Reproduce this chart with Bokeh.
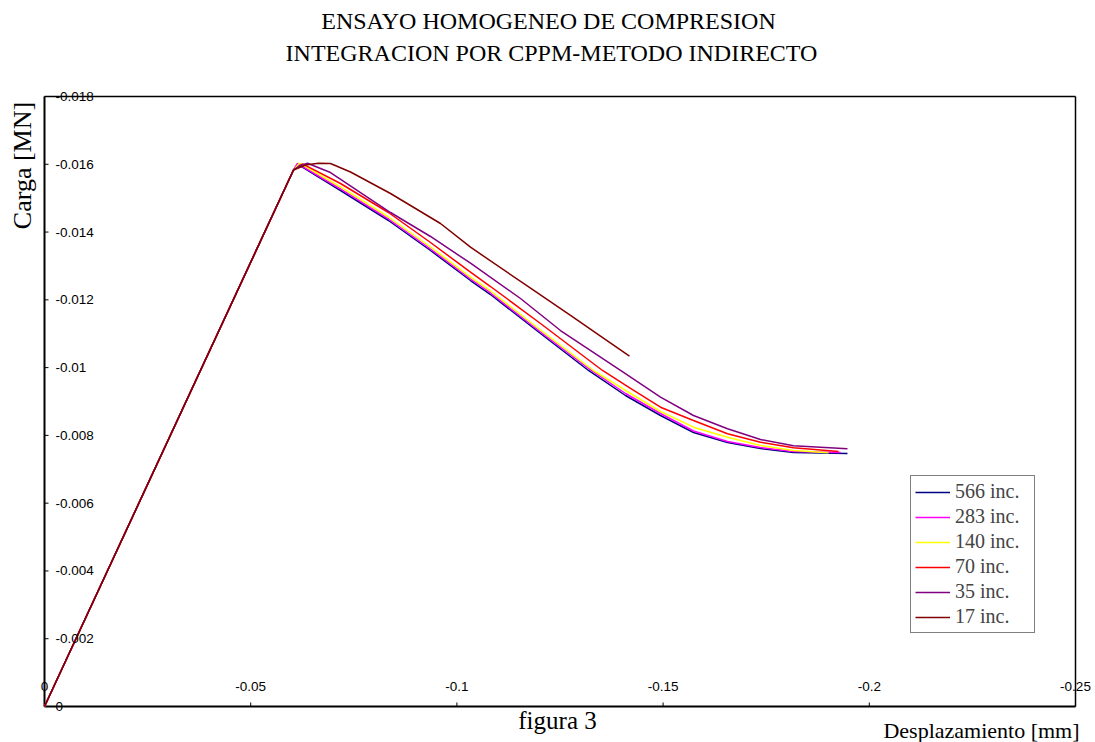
import math
from bokeh.plotting import figure
from bokeh.models import Range1d, Label, Legend, LegendItem
from bokeh.core.properties import value
from bokeh.embed import file_html
from bokeh.resources import INLINE

# ---------------- data ----------------
title_lines = ["ENSAYO HOMOGENEO DE COMPRESION", "INTEGRACION POR CPPM-METODO INDIRECTO"]
x_title = "Desplazamiento [mm]"
y_title = "Carga [MN]"
caption = "figura 3"

x_ticks = [0, -0.05, -0.1, -0.15, -0.2, -0.25]
x_tick_labels = ["0", "-0.05", "-0.1", "-0.15", "-0.2", "-0.25"]
y_ticks = [0, -0.002, -0.004, -0.006, -0.008, -0.01, -0.012, -0.014, -0.016, -0.018]
y_tick_labels = ["0", "-0.002", "-0.004", "-0.006", "-0.008", "-0.01", "-0.012",
                 "-0.014", "-0.016", "-0.018"]

series_names = ["566 inc.", "283 inc.", "140 inc.", "70 inc.", "35 inc.", "17 inc."]
series_colors = ["#000080", "#FF00FF", "#FFFF00", "#FF0000", "#800080", "#800000"]

x_566 = [0, -0.06038, -0.06135, -0.07177, -0.08341, -0.0936, -0.1033, -0.10815, -0.12027,
         -0.13191, -0.14088, -0.14937, -0.15737, -0.16562, -0.17362, -0.18162, -0.19471]
y_566 = [0, -0.015831, -0.016008, -0.015226, -0.014341, -0.013456, -0.01257, -0.012157,
         -0.011006, -0.009915, -0.009177, -0.008587, -0.008085, -0.00779, -0.007613,
         -0.007495, -0.007466]

x_283 = [0, -0.06038, -0.06135, -0.07177, -0.08341, -0.0936, -0.1033, -0.10815, -0.12027,
         -0.13191, -0.14088, -0.14937, -0.15737, -0.16562, -0.17362, -0.18162, -0.19302]
y_283 = [0, -0.015831, -0.016023, -0.015271, -0.014385, -0.0135, -0.012615, -0.012202,
         -0.011051, -0.009974, -0.009236, -0.008646, -0.00813, -0.00782, -0.007643,
         -0.007525, -0.007495]

x_140 = [0, -0.06038, -0.06183, -0.07177, -0.08341, -0.0936, -0.1033, -0.10815, -0.12027,
         -0.13312, -0.14088, -0.14937, -0.15737, -0.16562, -0.17362, -0.18162, -0.19011]
y_140 = [0, -0.015831, -0.016032, -0.01533, -0.014444, -0.013559, -0.012668, -0.012261,
         -0.01111, -0.009915, -0.009325, -0.008705, -0.008242, -0.007947, -0.007702,
         -0.007554, -0.007486]

x_70 = [0, -0.06038, -0.06256, -0.07177, -0.08341, -0.0936, -0.1033, -0.10815, -0.12027,
        -0.13531, -0.1421, -0.14937, -0.15737, -0.16562, -0.17362, -0.18162, -0.19253]
y_70 = [0, -0.015831, -0.016014, -0.015433, -0.014577, -0.013692, -0.012815, -0.012393,
        -0.011302, -0.009915, -0.009384, -0.008832, -0.008439, -0.008047, -0.007799,
        -0.007634, -0.007525]

x_35 = [0, -0.06038, -0.06208, -0.06377, -0.06935, -0.0839, -0.0936, -0.1033, -0.11542,
        -0.12512, -0.13967, -0.14937, -0.15737, -0.16562, -0.17362, -0.18162, -0.19471]
y_35 = [0, -0.015831, -0.015964, -0.016032, -0.015757, -0.014577, -0.013869, -0.013081,
        -0.012039, -0.011095, -0.009915, -0.009127, -0.008587, -0.008194, -0.007879,
        -0.007693, -0.007604]

x_17 = [0, -0.06038, -0.06329, -0.06644, -0.06935, -0.0742, -0.0839, -0.09602, -0.1033,
        -0.11785, -0.12755, -0.13482, -0.14185]
y_17 = [0, -0.015831, -0.015979, -0.016032, -0.016023, -0.015772, -0.015138, -0.014252,
        -0.013553, -0.012343, -0.011538, -0.01093, -0.010337]

series_x = [x_566, x_283, x_140, x_70, x_35, x_17]
series_y = [y_566, y_283, y_140, y_70, y_35, y_17]

# ---------------- layout (page pixels) ----------------
W, H = 1095, 742
BOX_L, BOX_R, BOX_T, BOX_B = 44, 1075, 96, 706
SERIF = "Liberation Serif"
SANS = "Liberation Sans"

x0, x1 = x_ticks[0], x_ticks[-1]
y0, y1 = y_ticks[0], y_ticks[-1]
kx = (BOX_R - BOX_L) / (x1 - x0)      # px per data unit
ky = (BOX_B - BOX_T) / (y1 - y0)

def x_at(px):
    return x0 + (px - BOX_L) / kx

def y_at(py):
    return y0 + (BOX_B - py) / ky

p = figure(width=W, height=H, output_backend="svg", toolbar_location=None,
           x_range=Range1d(x_at(0), x_at(W)), y_range=Range1d(y_at(H), y_at(0)),
           x_axis_location=None, y_axis_location=None,
           min_border=0, min_border_left=0, min_border_right=0,
           min_border_top=0, min_border_bottom=0)
p.title.visible = False
p.grid.visible = False
p.outline_line_color = None
p.background_fill_color = "white"
p.border_fill_color = "white"

# plot box (axes lines)
p.segment(x0=[x0, x0], y0=[y0, y0], x1=[x0, x1], y1=[y1, y0], line_color="black", line_width=2)
p.segment(x0=[x0, x1], y0=[y1, y1], x1=[x1, x1], y1=[y1, y0], line_color="black", line_width=1.5)

# tick marks (inside, 4 px)
tlx = 4 / abs(kx)
tly = 4 / abs(ky)
p.segment(x0=x_ticks, y0=[y0] * len(x_ticks), x1=x_ticks, y1=[y0 - tly] * len(x_ticks),
          line_color="black", line_width=1)
p.segment(x0=[x0] * len(y_ticks), y0=y_ticks, x1=[x0 - tlx] * len(y_ticks), y1=y_ticks,
          line_color="black", line_width=1)

# curves
renderers = []
for xs, ys, c in zip(series_x, series_y, series_colors):
    r = p.line(xs, ys, line_color=c, line_width=1.5)
    renderers.append(r)

# tick labels
p.text(x=x_ticks, y=[y0] * len(x_ticks), text=x_tick_labels, y_offset=-20,
       text_align="center", text_baseline="middle",
       text_font=value(SANS), text_font_size="13.5px", text_color="black")
p.text(x=[x0] * len(y_ticks), y=y_ticks, text=y_tick_labels, x_offset=11,
       text_align="left", text_baseline="middle",
       text_font=value(SANS), text_font_size="13.5px", text_color="black")

# titles and axis texts (screen units, y measured up from the bottom)
def add_label(cx, cy, text, size, angle=0.0):
    p.add_layout(Label(x=cx, y=H - cy, x_units="screen", y_units="screen", text=text,
                       text_align="center", text_baseline="middle", angle=angle,
                       text_font=SERIF, text_font_size=size, text_color="black"))

add_label(548, 20, title_lines[0], "24px")
add_label(551, 52, title_lines[1], "24px")
add_label(22, 165, y_title, "26px", angle=math.pi / 2)
add_label(557, 720, caption, "25px")
add_label(981, 730, x_title, "22px")

legend = Legend(items=[LegendItem(label=n, renderers=[r]) for n, r in zip(series_names, renderers)],
                location=(910, H - 633), orientation="vertical",
                label_text_font=SERIF, label_text_font_size="20px",
                border_line_color="black", border_line_width=1,
                background_fill_color="white", background_fill_alpha=1,
                padding=4, spacing=2, margin=0,
                glyph_width=35, glyph_height=20, label_height=20, label_width=75,
                label_standoff=5)
p.add_layout(legend)

open("out.html", "w").write(file_html(p, INLINE))
